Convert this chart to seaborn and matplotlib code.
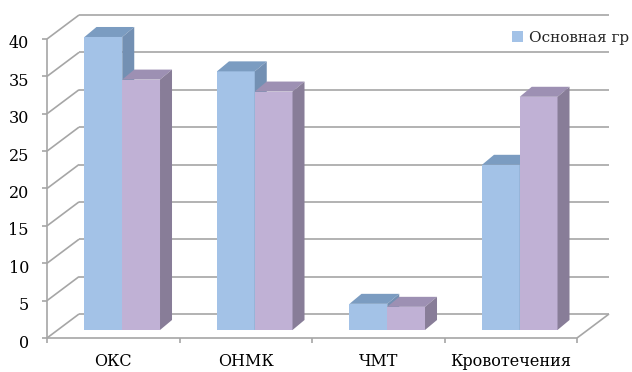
import numpy as np
import pandas as pd
import matplotlib
matplotlib.use("Agg")
import matplotlib.pyplot as plt
import matplotlib.transforms as mtransforms
from matplotlib.patches import Polygon, Patch
import seaborn as sns

# Data
categories = ["ОКС", "ОНМК", "ЧМТ", "Кровотечения"]
groups = ["Основная группа", "Контрольная группа"]
main_group = [39.2, 34.6, 3.5, 22.1]
control_group = [33.5, 31.9, 3.1, 31.2]
y_ticks = [0, 5, 10, 15, 20, 25, 30, 35, 40]
legend_label = "Основная гр"

# Colours: front, top and side faces of each series
front_cols = ["#a3c2e7", "#c0b1d5"]
top_cols = ["#7b9cc1", "#9d90b3"]
side_cols = ["#7390b3", "#887d98"]
wall_col = "#a6a6a6"

df = pd.DataFrame({
    "category": categories * 2,
    "group": [groups[0]] * 4 + [groups[1]] * 4,
    "value": main_group + control_group,
})

sns.set_style("white")
plt.rcParams["font.family"] = ["DejaVu Serif"]

W, H, DPI = 632, 372, 100
fig = plt.figure(figsize=(W / DPI, H / DPI), dpi=DPI)
# axes span the plane of the bar fronts
ax_l, ax_r, ax_b, ax_t = 56, 586, 42, 341
ax = fig.add_axes([ax_l / W, ax_b / H, (ax_r - ax_l) / W, (ax_t - ax_b) / H])

sns.barplot(data=df, x="category", y="value", hue="group", hue_order=groups,
            palette=front_cols, saturation=1, width=0.57, legend=False,
            linewidth=0, ax=ax)
ax.set_xlim(-0.5, 3.5)
ax.set_ylim(0, 40)
for s in ax.spines.values():
    s.set_visible(False)
ax.set_xlabel("")
ax.set_ylabel("")

# pixel -> data unit conversion
px_x = 4.0 / (ax_r - ax_l)
px_y = 40.0 / (ax_t - ax_b)

front = (-9 * px_x, -8 * px_y)   # front plane (axis line, floor edge)
back = (23 * px_x, 16 * px_y)    # back wall
depth = (12 * px_x, 10 * px_y)   # bar depth

def line(p, q, **kw):
    ax.plot([p[0], q[0]], [p[1], q[1]], color=wall_col, lw=1.2,
            clip_on=False, zorder=1, solid_capstyle="butt", **kw)

def shift(x, y, off):
    return (x + off[0], y + off[1])

x0, x1 = -0.5, 3.5
# back wall gridlines and left wall diagonals
for v in y_ticks:
    line(shift(x0, v, back), shift(x1, v, back))
    line(shift(x0, v, front), shift(x0, v, back))
# floor front and right edges
line(shift(x0, 0, front), shift(x1, 0, front))
line(shift(x1, 0, front), shift(x1, 0, back))
# front value axis with ticks
line(shift(x0, 0, front), shift(x0, 40, front))
for v in y_ticks:
    p = shift(x0, v, front)
    line(p, (p[0] - 5 * px_x, p[1]))
for xb in np.arange(-0.5, 4.0, 1.0):
    p = shift(xb, 0, front)
    line(p, (p[0], p[1] - 5 * px_y))

# 3D faces on each bar
n = len(categories)
for i, bar in enumerate(ax.patches):
    g = i // n
    base_z = 2 + g
    bar.set_zorder(base_z)
    bx, by = bar.get_x(), bar.get_y()
    bw, bh = bar.get_width(), bar.get_height()
    xr, yt = bx + bw, by + bh
    dx, dy = depth
    top = Polygon([(bx, yt), (xr, yt), (xr + dx, yt + dy), (bx + dx, yt + dy)],
                  closed=True, facecolor=top_cols[g], edgecolor="none",
                  clip_on=False, zorder=base_z + 0.5)
    side = Polygon([(xr, by), (xr + dx, by + dy), (xr + dx, yt + dy), (xr, yt)],
                   closed=True, facecolor=side_cols[g], edgecolor="none",
                   clip_on=False, zorder=base_z + 0.5)
    ax.add_patch(top)
    ax.add_patch(side)

# tick labels placed on the front plane
ax.set_yticks(y_ticks)
ax.set_xticks(range(len(categories)))
ax.set_xticklabels(categories)
ax.tick_params(axis="both", length=0, labelsize=11.5, colors="#000000")
ax.tick_params(axis="y", pad=13)
ax.tick_params(axis="x", pad=11)
fx = mtransforms.ScaledTranslation(-9 / DPI, -8 / DPI, fig.dpi_scale_trans)
fy = mtransforms.ScaledTranslation(-9 / DPI, -11 / DPI, fig.dpi_scale_trans)
for lbl in ax.get_xticklabels():
    lbl.set_transform(lbl.get_transform() + fx)
for lbl in ax.get_yticklabels():
    lbl.set_transform(lbl.get_transform() + fy)

fig.legend(handles=[Patch(facecolor=front_cols[0], edgecolor="none")],
           labels=[legend_label], loc="upper left",
           bbox_to_anchor=(512 / W, 1 - 31 / H), frameon=False,
           fontsize=11, handlelength=0.75, handleheight=0.75,
           handletextpad=0.35, borderaxespad=0, borderpad=0)

fig.savefig("out.png", dpi=DPI, facecolor="white")
